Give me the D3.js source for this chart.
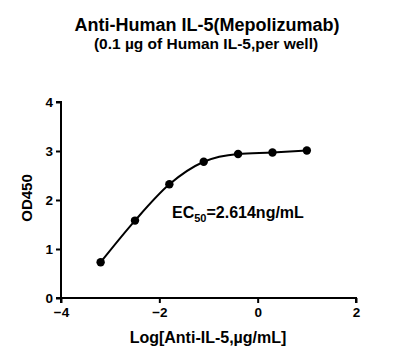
<!DOCTYPE html>
<html>
<head>
<meta charset="utf-8">
<script src="https://cdn.jsdelivr.net/npm/d3@7"></script>
<style>
  body { margin: 0; background: #fff; }
  text { font-family: "Liberation Sans", Arial, sans-serif; font-weight: bold; fill: #000; }
</style>
</head>
<body>
<div id="chart"></div>
<script>
// Data: log10 of concentration (µg/mL) and OD450
const logConc = [-3.194, -2.495, -1.796, -1.097, -0.398, 0.301, 1.0];
const od450 = [0.73, 1.58, 2.32, 2.78, 2.94, 2.97, 3.01];
const xTicks = [-4, -2, 0, 2];
const yTicks = [0, 1, 2, 3, 4];

const svgWidth = 400, svgHeight = 360;
const margin = {top: 102, right: 44, bottom: 62, left: 61};
const width = svgWidth - margin.left - margin.right;
const height = svgHeight - margin.top - margin.bottom;

const svg = d3.select("#chart").append("svg")
  .attr("width", svgWidth)
  .attr("height", svgHeight);

// Titles
svg.append("text")
  .attr("x", 207).attr("y", 31)
  .attr("text-anchor", "middle")
  .style("font-size", "18px")
  .text("Anti-Human IL-5(Mepolizumab)");

svg.append("text")
  .attr("x", 206).attr("y", 49)
  .attr("text-anchor", "middle")
  .style("font-size", "15.5px")
  .text("(0.1 µg of Human IL-5,per well)");

const g = svg.append("g")
  .attr("transform", "translate(" + margin.left + "," + margin.top + ")");

const x = d3.scaleLinear().domain([-4, 2]).range([0, width]);
const y = d3.scaleLinear().domain([0, 4]).range([height, 0]);

// Axes
const xAxis = g.append("g")
  .attr("transform", "translate(0," + height + ")")
  .call(d3.axisBottom(x).tickValues(xTicks).tickFormat(d3.format("d")).tickSize(5).tickPadding(4));

const yAxis = g.append("g")
  .call(d3.axisLeft(y).tickValues(yTicks).tickFormat(d3.format("d")).tickSize(5).tickPadding(3));

[xAxis, yAxis].forEach(ax => {
  ax.select(".domain").attr("stroke", "#000").attr("stroke-width", 2);
  ax.selectAll(".tick line").attr("stroke", "#000").attr("stroke-width", 2);
  ax.selectAll(".tick text")
    .style("font-size", "13.5px")
    .style("font-family", "'Liberation Sans', Arial, sans-serif")
    .style("font-weight", "bold")
    .attr("fill", "#000");
});
yAxis.select(".domain").attr("d", "M-5," + height + "H0V0H-5");
xAxis.select(".domain").attr("d", "M0,5V0H" + width + "V5");

// Axis labels
svg.append("text")
  .attr("x", 208).attr("y", 343)
  .attr("text-anchor", "middle")
  .style("font-size", "16px")
  .text("Log[Anti-IL-5,µg/mL]");

svg.append("text")
  .attr("transform", "translate(32,198) rotate(-90)")
  .attr("text-anchor", "middle")
  .style("font-size", "15px")
  .text("OD450");

// Curve and points
const pts = logConc.map((d, i) => ({x: d, y: od450[i]}));

const line = d3.line()
  .x(d => x(d.x))
  .y(d => y(d.y))
  .curve(d3.curveMonotoneX);

g.append("path")
  .datum(pts)
  .attr("fill", "none")
  .attr("stroke", "#000")
  .attr("stroke-width", 2)
  .attr("d", line);

g.selectAll(".dot")
  .data(pts)
  .enter().append("circle")
  .attr("class", "dot")
  .attr("cx", d => x(d.x))
  .attr("cy", d => y(d.y))
  .attr("r", 4.2)
  .attr("fill", "#000");

// EC50 annotation
const ec = svg.append("text")
  .attr("x", 172).attr("y", 218)
  .style("font-size", "16px");
ec.append("tspan").text("EC");
ec.append("tspan").attr("dy", 4).style("font-size", "11px").text("50");
ec.append("tspan").attr("dy", -4).text("=2.614ng/mL");
</script>
</body>
</html>
